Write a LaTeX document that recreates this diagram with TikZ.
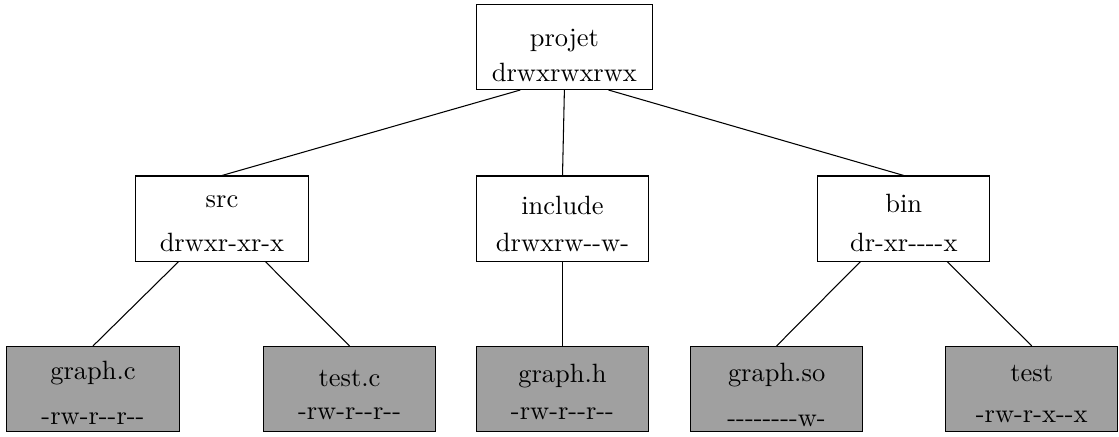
\documentclass[tikz,border=0pt]{standalone}
\usetikzlibrary{calc}
\definecolor{filegray}{RGB}{160,160,160}
\tikzset{
	dirbox/.style={draw, fill=white, align=center, inner ysep=0.5pt, minimum width=22.9mm, minimum height=11.3mm},
	filebox/.style={dirbox, fill=filegray},
}
\begin{document}
\begin{tikzpicture}[x=10mm,y=10mm]
	\useasboundingbox (0,0) rectangle (14.87,5.794);
	% directories
	\path (7.50,5.17) node [dirbox, minimum width=23.3mm] (projet) {\rule{0pt}{13.2pt}projet\\[1.2pt]drwxrwxrwx};
	\path (2.95,2.89) node [dirbox] (src) {\rule{0pt}{8.7pt}src\\[4.6pt]drwxr-xr-x};
	\path (7.475,2.89) node [dirbox] (include) {\rule{0pt}{11.3pt}include\\[2pt]drwxrw-{}-w-};
	\path (12.01,2.89) node [dirbox] (bin) {\rule{0pt}{10.6pt}bin\\[2.7pt]dr-xr-{}-{}-{}-x};
	% files
	\path (1.236,0.625) node [filebox] (graphc) {\rule{0pt}{10.2pt}graph.c\\[5pt]-rw-r-{}-r-{}-};
	\path (4.645,0.625) node [filebox] (testc) {\rule{0pt}{11pt}test.c\\[0.5pt]-rw-r-{}-r-{}-};
	\path (7.475,0.625) node [filebox] (graphh) {\rule{0pt}{9.5pt}graph.h\\[2pt]-rw-r-{}-r-{}-};
	\path (10.32,0.625) node [filebox] (graphso) {\rule{0pt}{11.7pt}graph.so\\[5pt]-{}-{}-{}-{}-{}-{}-{}-w-};
	\path (13.71,0.625) node [filebox] (test) {\rule{0pt}{10.2pt}test\\[3.5pt]-rw-r-x-{}-x};
	% edges
	\draw ($(projet.south)!0.5!(projet.south west)$) -- (src.north);
	\draw (projet.south) -- (include.north);
	\draw ($(projet.south)!0.5!(projet.south east)$) -- (bin.north);
	\draw ($(src.south)!0.5!(src.south west)$) -- (graphc.north);
	\draw ($(src.south)!0.5!(src.south east)$) -- (testc.north);
	\draw (include.south) -- (graphh.north);
	\draw ($(bin.south)!0.5!(bin.south west)$) -- (graphso.north);
	\draw ($(bin.south)!0.5!(bin.south east)$) -- (test.north);
\end{tikzpicture}
\end{document}
